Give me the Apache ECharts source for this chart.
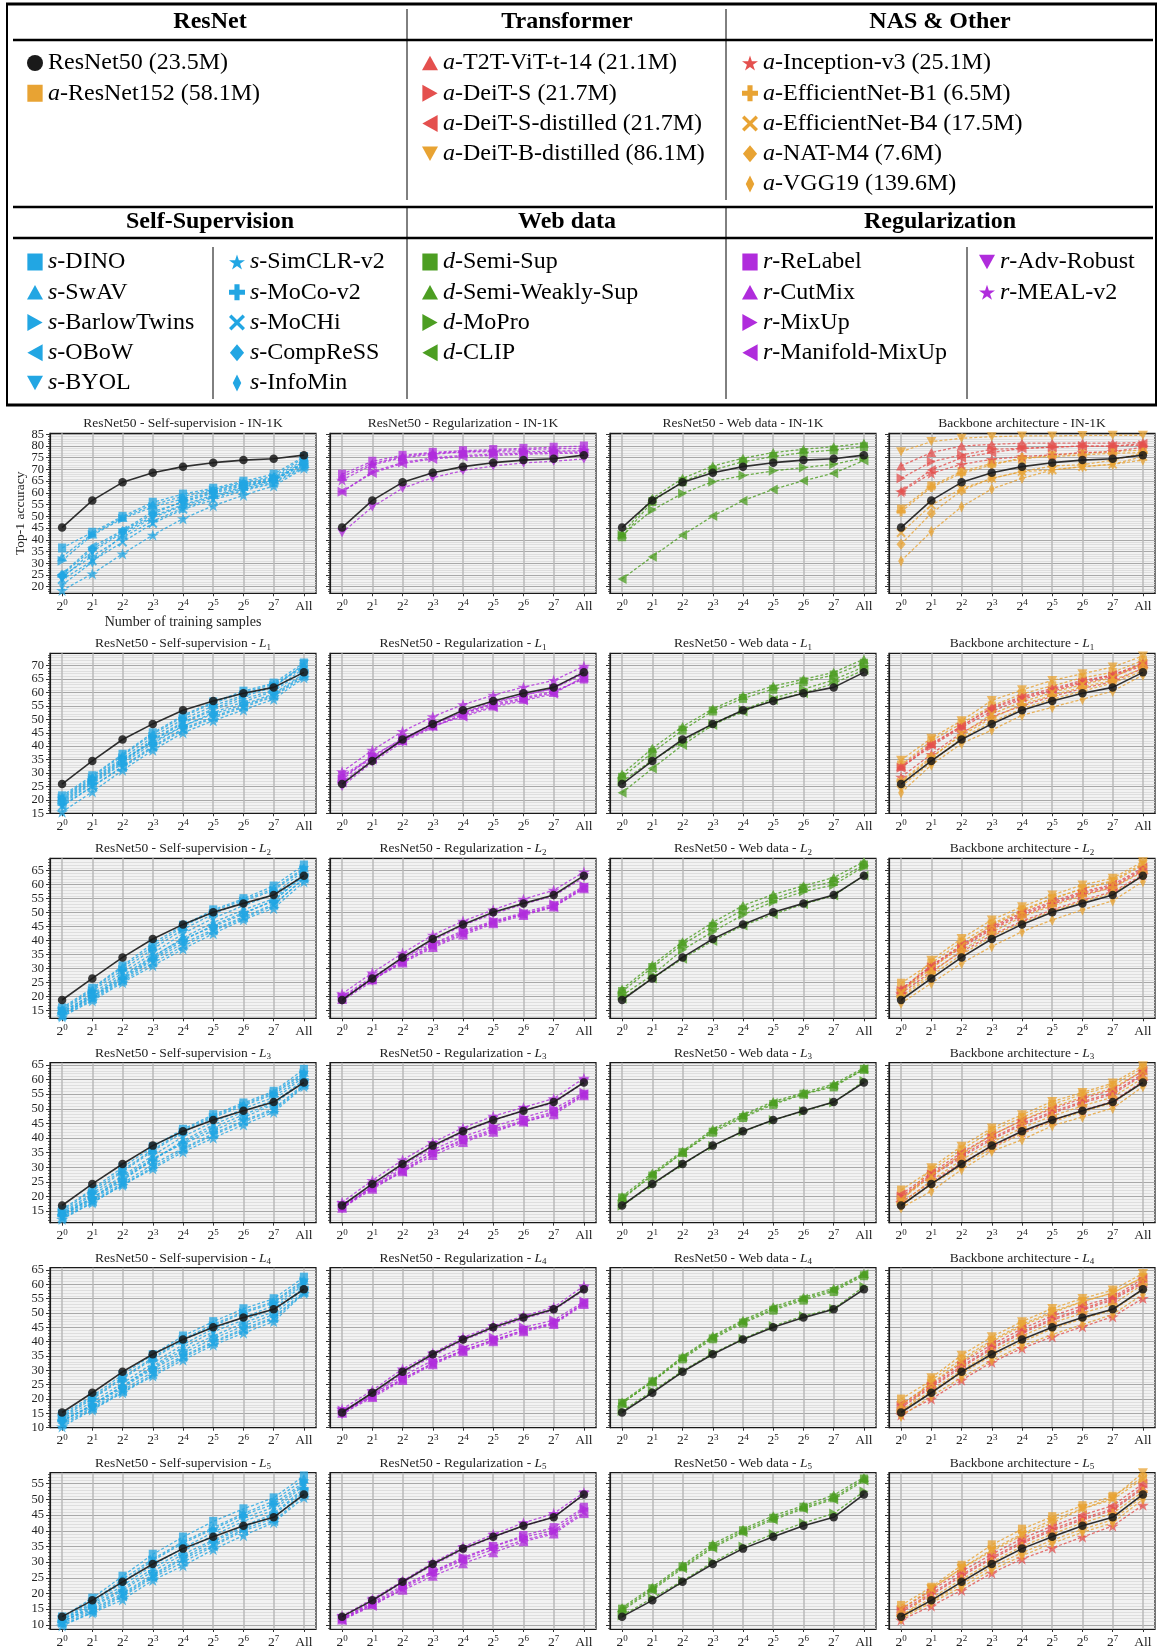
<!DOCTYPE html>
<html><head><meta charset="utf-8">
<script src="https://cdn.jsdelivr.net/npm/echarts@6/dist/echarts.min.js"></script>
<style>html,body{margin:0;padding:0;background:#fff}#c{width:1161px;height:1649px}</style>
</head><body><div id="c"></div>
<script>
// ---------------- categories / labels ----------------
const xTicks = ['2^0','2^1','2^2','2^3','2^4','2^5','2^6','2^7','All'];
const metricLabels = ['IN-1K','L1','L2','L3','L4','L5'];
const baseName = 'ResNet50 (23.5M)';
const selfNames = ['s-DINO','s-SwAV','s-BarlowTwins','s-OBoW','s-BYOL','s-SimCLR-v2','s-MoCo-v2','s-MoCHi','s-CompReSS','s-InfoMin'];
const regNames = ['r-ReLabel','r-CutMix','r-MixUp','r-Manifold-MixUp','r-Adv-Robust','r-MEAL-v2'];
const webNames = ['d-Semi-Sup','d-Semi-Weakly-Sup','d-MoPro','d-CLIP'];
const archNames = ['a-ResNet152 (58.1M)','a-T2T-ViT-t-14 (21.1M)','a-DeiT-S (21.7M)','a-DeiT-S-distilled (21.7M)','a-DeiT-B-distilled (86.1M)','a-Inception-v3 (25.1M)','a-EfficientNet-B1 (6.5M)','a-EfficientNet-B4 (17.5M)','a-NAT-M4 (7.6M)','a-VGG19 (139.6M)'];

// ---------------- values (Top-1 accuracy) ----------------
const resnet50_IN1K = [45.2, 56.8, 64.5, 68.6, 71.2, 72.9, 74.0, 74.6, 76.1];
const resnet50_L1 = [25.9, 34.5, 42.5, 48.3, 53.4, 56.8, 59.7, 61.9, 67.5];
const resnet50_L2 = [18.8, 26.5, 34.0, 40.6, 45.8, 50.1, 53.3, 56.3, 63.2];
const resnet50_L3 = [16.9, 24.3, 31.1, 37.4, 42.3, 46.2, 49.3, 52.3, 59.0];
const resnet50_L4 = [15.3, 22.2, 29.5, 35.6, 40.8, 45.0, 48.4, 51.3, 58.3];
const resnet50_L5 = [12.6, 17.8, 23.7, 29.4, 34.3, 38.1, 41.6, 44.3, 51.6];

const self_IN1K = [
 [36.5, 43.2, 50.0, 56.0, 59.5, 62.0, 65.0, 68.0, 75.5],
 [32.8, 42.5, 49.5, 55.0, 58.5, 61.5, 64.5, 67.0, 75.0],
 [31.1, 42.0, 49.0, 54.0, 57.5, 61.0, 64.0, 66.5, 74.0],
 [25.4, 37.0, 44.0, 52.0, 56.0, 60.0, 63.0, 65.5, 72.0],
 [23.5, 35.0, 43.0, 50.0, 55.0, 59.0, 62.5, 65.5, 73.5],
 [18.4, 25.5, 34.0, 42.0, 49.0, 54.5, 59.0, 63.0, 70.5],
 [24.5, 33.0, 41.0, 48.0, 53.5, 58.0, 61.5, 64.5, 71.5],
 [23.0, 31.0, 39.0, 47.0, 53.0, 57.0, 61.0, 64.0, 71.0],
 [25.0, 36.0, 43.5, 51.0, 56.5, 60.5, 63.5, 66.0, 72.5],
 [20.7, 30.5, 42.0, 49.5, 54.5, 58.5, 62.0, 65.0, 73.0]];
const reg_IN1K = [
 [68.0, 73.5, 76.0, 77.3, 78.0, 78.5, 79.0, 79.5, 80.0],
 [67.0, 72.5, 75.5, 77.0, 77.5, 78.0, 78.5, 78.8, 79.0],
 [60.5, 69.0, 73.0, 75.0, 76.0, 76.5, 77.0, 77.3, 77.5],
 [60.5, 68.5, 72.5, 74.5, 75.5, 76.0, 76.5, 76.8, 77.0],
 [43.0, 54.0, 62.0, 66.5, 69.5, 71.5, 72.8, 73.5, 74.5],
 [65.5, 72.0, 75.0, 76.5, 77.5, 77.5, 77.5, 77.8, 78.0]];
const web_IN1K = [
 [41.3, 56.3, 64.8, 69.8, 73.3, 75.5, 77.2, 78.3, 79.7],
 [42.5, 57.7, 66.2, 71.5, 74.8, 77.2, 78.6, 79.7, 81.2],
 [42.0, 52.7, 59.8, 64.8, 67.4, 69.4, 70.8, 72.2, 75.0],
 [23.3, 32.8, 42.0, 50.1, 56.7, 61.5, 65.2, 68.4, 73.8]];
const arch_IN1K = [
 [53.1, 63.0, 69.1, 72.6, 74.3, 76.2, 76.9, 77.6, 78.3],
 [71.5, 77.2, 80.0, 80.7, 81.2, 81.2, 81.2, 81.2, 81.5],
 [66.2, 73.3, 76.2, 78.6, 79.0, 79.5, 80.0, 80.0, 80.4],
 [60.8, 69.8, 75.0, 77.2, 79.0, 79.5, 80.0, 80.0, 81.0],
 [77.6, 81.9, 83.3, 84.0, 84.3, 84.3, 84.5, 84.6, 84.6],
 [60.5, 68.4, 72.2, 74.3, 75.5, 76.2, 77.2, 77.6, 79.5],
 [52.0, 62.4, 68.4, 71.9, 75.0, 75.5, 76.2, 76.9, 77.2],
 [43.0, 54.8, 61.7, 66.2, 69.1, 69.8, 71.2, 72.2, 75.5],
 [38.1, 51.3, 61.0, 66.2, 69.1, 71.5, 72.0, 74.0, 77.0],
 [31.0, 43.5, 54.1, 61.7, 66.2, 69.8, 71.2, 72.2, 74.0]];

const self_L1 = [
 [21.5, 29.0, 37.0, 45.0, 51.5, 56.5, 60.5, 63.5, 71.0],
 [21.0, 28.5, 36.5, 44.5, 51.0, 56.0, 60.0, 63.0, 70.0],
 [20.5, 28.0, 35.5, 43.5, 50.0, 55.0, 59.0, 62.5, 69.5],
 [18.0, 25.0, 32.5, 40.0, 46.5, 51.0, 55.0, 59.0, 66.5],
 [19.5, 27.0, 34.5, 42.5, 49.0, 54.0, 58.5, 62.0, 70.5],
 [15.5, 23.0, 31.0, 38.5, 45.0, 49.5, 53.5, 57.5, 65.5],
 [18.5, 26.0, 33.5, 41.0, 47.5, 52.5, 56.5, 60.5, 68.0],
 [17.5, 25.0, 32.0, 39.5, 46.0, 50.5, 54.5, 58.5, 66.0],
 [20.0, 27.5, 35.0, 41.5, 47.5, 52.0, 55.5, 59.5, 67.0],
 [19.0, 26.5, 34.0, 42.0, 48.5, 53.5, 57.5, 61.0, 69.0]];
const reg_L1 = [
 [29.0, 36.0, 43.0, 48.0, 52.5, 55.5, 58.0, 60.5, 65.0],
 [28.5, 35.5, 42.0, 47.5, 51.5, 55.0, 57.5, 60.0, 65.5],
 [27.5, 36.5, 42.5, 48.5, 52.5, 56.5, 59.0, 61.5, 67.0],
 [26.5, 35.0, 42.0, 47.5, 51.0, 54.5, 57.0, 59.5, 66.0],
 [25.0, 34.0, 41.5, 47.0, 52.0, 56.0, 59.0, 61.5, 68.0],
 [30.5, 38.5, 45.5, 51.0, 55.5, 59.0, 62.0, 64.5, 69.8]];
const web_L1 = [
 [28.4, 37.6, 46.0, 53.1, 57.8, 61.2, 64.0, 66.5, 70.9],
 [29.6, 39.2, 47.3, 53.9, 58.9, 62.4, 64.9, 67.5, 72.4],
 [26.8, 34.8, 41.7, 48.3, 53.5, 57.8, 61.2, 64.7, 69.6],
 [22.7, 31.7, 40.4, 47.9, 52.9, 57.2, 59.7, 63.4, 68.4]];
const arch_L1 = [
 [33.0, 42.0, 48.5, 55.0, 59.5, 62.5, 65.5, 67.5, 72.0],
 [32.5, 41.0, 47.5, 54.5, 58.5, 61.5, 64.5, 66.5, 71.0],
 [32.0, 40.0, 47.0, 53.0, 57.5, 60.5, 63.5, 66.0, 70.0],
 [32.0, 40.5, 47.5, 54.0, 58.0, 61.0, 64.0, 66.5, 70.5],
 [34.8, 43.0, 49.5, 57.0, 61.0, 64.5, 67.0, 69.5, 73.6],
 [28.5, 37.0, 45.0, 51.0, 55.0, 58.5, 61.5, 64.0, 69.0],
 [27.0, 36.0, 44.0, 50.5, 55.5, 59.0, 62.0, 64.5, 69.0],
 [26.5, 35.5, 44.5, 52.0, 56.5, 60.0, 63.0, 65.5, 71.0],
 [25.0, 34.0, 43.0, 49.0, 54.0, 57.5, 60.5, 63.5, 68.0],
 [22.7, 33.0, 41.0, 46.0, 51.5, 54.5, 57.5, 60.5, 66.5]];

const self_L2 = [
 [16.0, 23.0, 31.0, 39.0, 45.5, 51.0, 55.0, 59.5, 67.0],
 [15.5, 22.5, 30.5, 38.0, 45.0, 50.5, 54.5, 58.5, 66.0],
 [15.0, 22.0, 29.5, 37.0, 44.0, 49.5, 54.0, 58.0, 65.5],
 [13.5, 19.5, 26.0, 33.0, 39.0, 44.0, 48.5, 53.0, 62.0],
 [14.5, 21.0, 28.5, 35.5, 42.5, 48.0, 52.5, 56.5, 65.0],
 [12.8, 18.5, 25.0, 31.0, 37.0, 42.5, 47.5, 51.5, 61.0],
 [14.0, 20.0, 26.5, 33.5, 40.0, 45.5, 50.0, 54.0, 63.5],
 [13.0, 19.0, 25.5, 32.0, 38.0, 43.5, 48.0, 52.5, 62.5],
 [14.5, 20.5, 27.5, 34.5, 40.5, 45.0, 49.5, 54.5, 63.0],
 [13.5, 20.0, 27.0, 34.0, 41.0, 46.5, 51.0, 55.0, 64.0]];
const reg_L2 = [
 [19.5, 26.0, 32.5, 38.5, 43.0, 46.5, 49.5, 52.5, 59.0],
 [19.0, 26.0, 32.0, 37.5, 42.0, 46.0, 49.0, 52.0, 58.5],
 [20.0, 27.0, 33.5, 39.0, 43.5, 47.0, 50.0, 53.0, 59.5],
 [19.5, 26.5, 32.5, 38.0, 42.5, 46.5, 49.5, 52.0, 59.0],
 [18.5, 25.5, 33.5, 40.0, 45.5, 49.5, 53.0, 56.0, 62.5],
 [21.0, 28.5, 35.5, 42.0, 47.0, 51.0, 54.8, 58.0, 64.5]];
const web_L2 = [
 [21.8, 30.4, 38.7, 45.0, 51.0, 54.9, 58.7, 61.1, 67.0],
 [22.7, 31.3, 39.6, 46.5, 52.5, 56.5, 59.6, 62.5, 68.2],
 [20.4, 27.7, 36.7, 43.2, 49.2, 53.9, 57.5, 59.9, 66.4],
 [19.2, 26.5, 33.5, 39.9, 45.4, 49.4, 53.0, 56.1, 63.2]];
const arch_L2 = [
 [24.8, 32.0, 39.5, 46.0, 51.0, 55.0, 58.5, 61.0, 67.0],
 [22.7, 31.0, 38.0, 44.5, 49.5, 53.5, 57.0, 59.5, 65.5],
 [22.0, 30.5, 37.5, 44.0, 49.0, 53.0, 56.5, 59.0, 65.0],
 [22.5, 31.0, 38.5, 45.0, 50.0, 54.0, 57.5, 60.0, 66.0],
 [21.0, 33.0, 40.8, 47.4, 52.1, 56.3, 59.9, 62.3, 68.2],
 [21.0, 29.0, 36.0, 42.0, 47.0, 51.0, 54.5, 57.5, 63.5],
 [20.0, 28.5, 36.5, 43.0, 48.5, 52.5, 56.0, 59.0, 64.5],
 [21.5, 30.0, 38.0, 45.5, 50.5, 55.0, 58.5, 61.5, 67.5],
 [19.5, 27.5, 35.0, 41.5, 46.5, 50.5, 54.0, 57.0, 63.0],
 [17.6, 24.8, 31.9, 37.9, 43.2, 47.4, 51.0, 54.2, 61.1]];

const self_L3 = [
 [15.5, 22.5, 30.0, 37.0, 43.0, 48.0, 52.0, 56.0, 63.5],
 [15.0, 22.0, 29.0, 36.0, 42.5, 47.5, 51.5, 55.5, 62.5],
 [14.5, 21.0, 28.5, 35.5, 42.0, 47.0, 51.0, 55.0, 62.0],
 [13.0, 18.5, 24.5, 31.0, 36.5, 41.5, 46.0, 50.0, 58.5],
 [14.0, 20.5, 27.0, 34.0, 40.5, 45.5, 50.0, 54.0, 61.5],
 [12.2, 17.8, 23.8, 29.5, 35.2, 40.0, 44.5, 48.8, 57.6],
 [13.5, 19.5, 26.0, 32.5, 38.5, 43.5, 48.0, 52.0, 60.0],
 [12.5, 18.0, 24.0, 30.0, 36.0, 41.0, 45.5, 49.5, 58.0],
 [14.0, 19.5, 26.5, 33.0, 38.0, 42.5, 47.0, 51.5, 59.5],
 [13.5, 19.0, 25.5, 32.5, 39.0, 44.5, 49.0, 53.0, 61.0]];
const reg_L3 = [
 [16.5, 23.0, 29.0, 35.0, 39.5, 43.0, 46.0, 49.0, 55.0],
 [16.0, 22.5, 28.5, 34.0, 38.5, 42.0, 45.5, 48.0, 54.5],
 [17.0, 23.5, 29.5, 36.0, 40.5, 44.0, 47.0, 50.0, 55.5],
 [16.5, 23.0, 28.5, 35.0, 39.0, 42.5, 45.5, 48.5, 55.0],
 [15.8, 23.5, 30.5, 37.0, 42.0, 46.0, 49.5, 52.0, 59.0],
 [18.0, 25.5, 32.5, 38.5, 43.5, 47.5, 50.5, 53.5, 60.5]];
const web_L3 = [
 [19.5, 27.0, 35.0, 42.0, 47.0, 51.5, 55.0, 57.5, 63.5],
 [20.0, 28.0, 35.5, 43.0, 48.0, 52.5, 55.5, 58.5, 64.0],
 [16.8, 24.0, 31.0, 37.3, 42.2, 46.2, 49.2, 52.2, 59.5],
 [19.0, 27.5, 35.0, 42.5, 47.5, 52.0, 55.0, 58.0, 63.5]];
const arch_L3 = [
 [22.2, 29.0, 36.0, 42.5, 47.0, 51.5, 55.0, 58.0, 64.0],
 [19.5, 27.0, 33.5, 39.5, 44.5, 48.5, 52.0, 55.0, 61.5],
 [20.0, 27.5, 34.0, 40.0, 45.0, 49.0, 52.5, 55.5, 62.0],
 [20.7, 28.0, 35.0, 41.0, 46.0, 50.0, 53.5, 56.5, 63.0],
 [18.0, 29.8, 37.2, 43.4, 48.0, 52.5, 55.6, 58.8, 64.7],
 [18.0, 25.0, 31.5, 37.0, 42.0, 46.0, 49.5, 52.5, 59.5],
 [17.5, 25.5, 32.5, 38.5, 43.5, 47.5, 51.0, 54.0, 60.5],
 [19.0, 27.0, 34.5, 41.0, 46.0, 50.5, 54.0, 57.0, 63.0],
 [17.0, 24.0, 30.5, 36.5, 41.5, 45.5, 49.0, 52.0, 59.0],
 [16.1, 21.8, 29.2, 35.5, 39.4, 44.2, 47.2, 50.2, 57.6]];

const self_L4 = [
 [14.7, 21.0, 28.5, 35.5, 42.0, 47.0, 51.5, 55.0, 62.5],
 [14.0, 20.5, 27.5, 34.5, 41.0, 46.0, 50.5, 54.0, 61.5],
 [13.5, 20.0, 27.0, 34.0, 40.5, 45.5, 50.0, 53.5, 61.0],
 [11.5, 17.0, 23.0, 29.5, 35.0, 40.0, 44.5, 48.5, 57.5],
 [13.0, 19.0, 25.5, 32.5, 39.0, 44.5, 48.5, 52.5, 60.5],
 [10.3, 16.2, 22.2, 28.0, 33.6, 38.8, 43.0, 47.0, 56.9],
 [12.5, 18.0, 24.5, 31.0, 37.0, 42.0, 46.5, 50.5, 59.0],
 [11.0, 16.5, 22.5, 28.5, 34.5, 39.5, 44.0, 48.0, 57.0],
 [12.5, 17.5, 24.0, 30.5, 36.0, 41.0, 45.5, 49.5, 58.5],
 [12.0, 18.0, 24.5, 31.5, 38.0, 43.5, 47.5, 51.5, 60.0]];
const reg_L4 = [
 [15.5, 21.0, 27.0, 32.5, 37.0, 40.5, 44.0, 46.5, 53.5],
 [15.0, 20.5, 26.5, 32.0, 36.5, 40.0, 43.5, 46.0, 53.0],
 [16.0, 21.5, 28.0, 33.5, 38.0, 41.5, 45.0, 47.5, 54.0],
 [15.5, 21.0, 27.0, 32.5, 37.0, 40.5, 44.0, 46.5, 53.5],
 [14.5, 21.5, 29.0, 35.0, 40.5, 44.5, 48.0, 51.0, 58.0],
 [16.5, 23.0, 30.5, 36.0, 41.5, 45.5, 49.0, 52.0, 59.5]];
const web_L4 = [
 [18.5, 26.0, 34.0, 41.0, 46.5, 51.0, 54.5, 57.5, 63.0],
 [19.0, 26.5, 34.8, 42.0, 47.5, 52.2, 55.5, 58.6, 63.8],
 [15.8, 22.8, 29.8, 36.0, 41.0, 45.5, 49.0, 51.5, 59.2],
 [18.5, 26.0, 34.5, 41.5, 47.0, 51.5, 55.0, 58.0, 63.5]];
const arch_L4 = [
 [20.0, 26.5, 34.0, 40.5, 46.0, 50.5, 54.0, 57.0, 62.5],
 [17.0, 24.0, 31.0, 37.5, 43.0, 47.5, 51.0, 54.5, 60.5],
 [17.5, 24.5, 31.5, 38.0, 43.5, 48.0, 51.5, 55.0, 61.0],
 [18.1, 25.0, 32.5, 39.0, 44.5, 49.0, 52.5, 55.5, 62.0],
 [13.8, 27.4, 35.3, 41.7, 47.0, 51.6, 55.1, 58.0, 63.8],
 [14.5, 20.0, 26.6, 32.8, 37.7, 41.7, 45.2, 48.7, 55.1],
 [16.0, 23.0, 30.0, 36.5, 42.0, 46.5, 50.0, 53.0, 60.0],
 [18.0, 25.5, 33.0, 40.0, 45.5, 50.0, 54.0, 57.0, 62.5],
 [15.5, 22.5, 29.0, 35.0, 40.0, 44.5, 48.0, 51.0, 58.0],
 [14.0, 21.0, 27.5, 33.5, 38.5, 42.5, 46.0, 49.5, 56.5]];

const self_L5 = [
 [12.5, 18.5, 25.5, 32.5, 38.0, 43.0, 47.0, 50.5, 57.5],
 [12.0, 17.5, 24.5, 31.0, 36.5, 41.0, 45.5, 49.5, 56.5],
 [11.5, 17.0, 23.5, 30.5, 36.0, 40.5, 45.0, 48.5, 55.5],
 [10.0, 14.0, 19.0, 25.0, 30.0, 35.0, 40.0, 43.0, 51.5],
 [11.5, 16.5, 22.5, 29.0, 34.5, 39.5, 44.0, 47.5, 55.0],
 [9.7, 13.8, 18.0, 24.2, 28.8, 34.0, 38.5, 42.6, 50.6],
 [11.0, 15.5, 21.0, 27.0, 32.5, 37.0, 41.5, 45.5, 53.5],
 [10.5, 14.5, 19.5, 25.5, 31.0, 35.5, 40.5, 44.0, 52.5],
 [11.0, 15.0, 20.0, 26.0, 31.5, 36.5, 41.0, 45.0, 53.0],
 [11.0, 16.0, 21.5, 28.0, 33.5, 38.5, 43.0, 46.5, 54.5]];
const reg_L5 = [
 [12.0, 17.0, 22.5, 27.0, 31.0, 35.0, 38.5, 41.0, 47.5],
 [11.5, 16.5, 21.0, 25.5, 29.5, 33.0, 36.5, 39.0, 45.5],
 [12.0, 16.5, 22.0, 27.0, 31.5, 35.0, 38.0, 40.0, 47.0],
 [11.5, 16.0, 21.5, 26.5, 30.5, 34.0, 37.0, 39.5, 46.0],
 [12.0, 17.5, 23.5, 29.0, 34.0, 38.0, 41.5, 44.5, 51.5],
 [12.8, 18.2, 24.0, 29.8, 34.8, 38.8, 42.5, 45.5, 52.2]];
const web_L5 = [
 [15.0, 21.5, 28.5, 35.0, 40.0, 44.0, 47.5, 50.5, 56.5],
 [15.5, 22.0, 29.0, 35.8, 40.5, 44.8, 48.0, 51.4, 57.0],
 [13.0, 18.5, 24.0, 30.0, 35.0, 39.0, 42.5, 45.5, 52.5],
 [14.5, 21.0, 28.0, 34.5, 39.5, 43.5, 47.0, 50.0, 56.0]];
const arch_L5 = [
 [16.2, 22.0, 29.0, 35.5, 40.5, 44.5, 48.0, 51.0, 57.0],
 [14.0, 19.5, 25.5, 31.0, 36.0, 40.0, 43.5, 46.5, 53.5],
 [14.5, 20.0, 26.0, 31.5, 36.5, 40.5, 44.0, 47.0, 54.0],
 [15.0, 21.0, 27.0, 32.5, 37.5, 41.5, 45.0, 48.0, 55.0],
 [11.5, 21.5, 28.0, 33.5, 38.5, 42.5, 47.0, 50.5, 58.5],
 [11.5, 16.0, 21.0, 26.5, 31.0, 34.5, 38.0, 41.5, 48.2],
 [13.0, 18.5, 24.5, 30.0, 35.0, 39.0, 42.5, 45.5, 52.5],
 [15.0, 21.5, 28.0, 34.0, 39.0, 43.5, 47.0, 50.0, 56.5],
 [12.5, 17.5, 23.0, 28.5, 33.0, 37.0, 40.5, 43.5, 51.0],
 [12.0, 17.0, 22.0, 27.5, 32.0, 36.0, 39.5, 42.5, 50.0]];

// ---------------- styles ----------------
const FF = "'Liberation Serif','DejaVu Serif',serif";
const BLUE = '#22a6e3', PURPLE = '#b02cdc', GREEN = '#4c9e22', RED = '#e4504e', ORANGE = '#e8a333', BLACK = '#1a1a1a';
const MARK = {
  circle: ['circle', 8.5],
  rect: ['path://M0,0 H9 V10 H0 Z', 9],
  tri: ['path://M5,0 L10,9 L0,9 Z', 10],
  right: ['path://M0,0 L9,5 L0,10 Z', 10],
  left: ['path://M9,0 L0,5 L9,10 Z', 10],
  down: ['path://M0,0 L10,0 L5,9 Z', 10],
  star: ['path://M50,0 L61.2,34.5 L97.6,34.5 L68.2,55.9 L79.4,90.5 L50,69.1 L20.6,90.5 L31.8,55.9 L2.4,34.5 L38.8,34.5 Z', 12],
  plus: ['path://M34,0 H66 V34 H100 V66 H66 V100 H34 V66 H0 V34 H34 Z', 9.5],
  x: ['path://M0,15 L15,0 L50,35 L85,0 L100,15 L65,50 L100,85 L85,100 L50,65 L15,100 L0,85 L35,50 Z', 9.5],
  diamond: ['path://M5,0 L10,6 L5,12 L0,6 Z', 11],
  thin: ['path://M3,0 L6,6 L3,12 L0,6 Z', 11.5]
};
const selfStyle = ['rect','tri','right','left','down','star','plus','x','diamond','thin'].map(m => [m, BLUE]);
const regStyle = ['rect','tri','right','left','down','star'].map(m => [m, PURPLE]);
const webStyle = ['rect','tri','right','left'].map(m => [m, GREEN]);
const archStyle = [['rect',ORANGE],['tri',RED],['right',RED],['left',RED],['down',ORANGE],['star',RED],['plus',ORANGE],['x',ORANGE],['diamond',ORANGE],['thin',ORANGE]];

const rows = [
  [resnet50_IN1K, self_IN1K, reg_IN1K, web_IN1K, arch_IN1K],
  [resnet50_L1, self_L1, reg_L1, web_L1, arch_L1],
  [resnet50_L2, self_L2, reg_L2, web_L2, arch_L2],
  [resnet50_L3, self_L3, reg_L3, web_L3, arch_L3],
  [resnet50_L4, self_L4, reg_L4, web_L4, arch_L4],
  [resnet50_L5, self_L5, reg_L5, web_L5, arch_L5]
];
const groups = [
  {title: 'ResNet50 - Self-supervision - ', names: selfNames, style: selfStyle},
  {title: 'ResNet50 - Regularization - ', names: regNames, style: regStyle},
  {title: 'ResNet50 - Web data - ', names: webNames, style: webStyle},
  {title: 'Backbone architecture - ', names: archNames, style: archStyle}
];
const iconOf = {}, colorOf = {};
iconOf[baseName] = 'circle'; colorOf[baseName] = BLACK;
groups.forEach(g => g.names.forEach((n, k) => { iconOf[n] = MARK[g.style[k][0]][0]; colorOf[n] = g.style[k][1]; }));

// ---------------- layout ----------------
const colLeft = [50, 330, 610, 889];
const plotW = 266, plotH = 160;
const rowTop = [433.3, 653.3, 858.3, 1062.7, 1267.7, 1472.7];
const yRange = [[17.17, 85.43], [15.0, 74.6], [12.26, 69.4], [11.02, 65.78], [10.0, 65.81], [8.66, 58.52]];
const xIdx = xTicks.map((t, i) => i);

const grid = [], xAxis = [], yAxis = [], series = [], graphic = [];

function xFmt(v) {
  const t = xTicks[Math.round(v)];
  if (t && t.indexOf('^') > 0) { const p = t.split('^'); return '{b|' + p[0] + '}{s|' + p[1] + '}'; }
  return '{b|' + t + '}';
}
const yLab = (show, vals) => ({show: show, customValues: vals, margin: 6, fontFamily: FF, fontSize: 12.5, color: '#222',
  showMinLabel: true, showMaxLabel: true, hideOverlap: false});

rows.forEach((row, r) => {
  const [ymin, ymax] = yRange[r];
  const minor = [], major = [], labA = [], labB = [];
  for (let v = Math.ceil(ymin); v <= Math.floor(ymax); v++) {
    minor.push(v);
    if (v % 5 === 0) { major.push(v); (v % 10 === 0 ? labA : labB).push(v); }
  }
  groups.forEach((g, c) => {
    const gi = r * 4 + c;
    grid.push({left: colLeft[c], top: rowTop[r], width: plotW, height: plotH, show: true,
      backgroundColor: '#f2f2f2', borderColor: BLACK, borderWidth: 1.2, containLabel: false});
    xAxis.push({type: 'value', gridIndex: gi, min: -0.4, max: 8.4, position: 'bottom', z: 1,
      axisLine: {show: true, onZero: false, lineStyle: {color: BLACK, width: 1.2}},
      axisTick: {show: true, customValues: xIdx, length: 3, lineStyle: {color: '#333'}},
      axisLabel: {show: true, customValues: xIdx, margin: 5, formatter: xFmt, color: '#222',
        showMinLabel: true, showMaxLabel: true, hideOverlap: false,
        rich: {b: {fontFamily: FF, fontSize: 13.5, color: '#222', lineHeight: 16},
               s: {fontFamily: FF, fontSize: 9, color: '#222', verticalAlign: 'top', lineHeight: 9}}},
      splitLine: {show: true, lineStyle: {color: '#b9b9b9', width: 1.5}}});
    // minor grid axis (also carries labels 25, 35, ...)
    yAxis.push({type: 'value', gridIndex: gi, min: ymin, max: ymax, position: 'left', z: 0,
      axisLine: {show: false, onZero: false},
      axisTick: {show: true, customValues: minor, length: 2, lineStyle: {color: '#333', width: 0.8}},
      axisLabel: yLab(c === 0, labB),
      splitLine: {show: true, lineStyle: {color: '#d8d8d8', width: 0.8}}});
    // major grid axis (labels 20, 30, ...)
    yAxis.push({type: 'value', gridIndex: gi, min: ymin, max: ymax, position: 'left', z: 1,
      axisLine: {show: true, onZero: false, lineStyle: {color: BLACK, width: 1.2}},
      axisTick: {show: true, customValues: major, length: 4, lineStyle: {color: '#333', width: 1}},
      axisLabel: yLab(c === 0, labA),
      splitLine: {show: true, lineStyle: {color: '#a8a8a8', width: 1}}});
    const vals = row[c + 1];
    vals.forEach((arr, k) => {
      const [mk, color] = g.style[k];
      const m = MARK[mk];
      series.push({type: 'line', name: g.names[k], xAxisIndex: gi, yAxisIndex: 2 * gi + 1,
        data: arr.map((v, i) => [xIdx[i], v]),
        symbol: m[0], symbolSize: m[1], symbolKeepAspect: true, showSymbol: true,
        lineStyle: {color: color, width: 1.3, type: [3, 2], opacity: 0.8},
        itemStyle: {color: color, opacity: 0.75}, emphasis: {disabled: true}, silent: true, z: 2});
    });
    series.push({type: 'line', name: baseName, xAxisIndex: gi, yAxisIndex: 2 * gi + 1,
      data: row[0].map((v, i) => [xIdx[i], v]),
      symbol: 'circle', symbolSize: 8.5, showSymbol: true,
      lineStyle: {color: BLACK, width: 1.6, opacity: 0.9},
      itemStyle: {color: BLACK, opacity: 0.85}, emphasis: {disabled: true}, silent: true, z: 3});
    const lab = metricLabels[r];
    const txt = lab === 'IN-1K' ? '{t|' + g.title + 'IN-1K}' : '{t|' + g.title + '}{l|L}{s|' + lab.slice(1) + '}';
    graphic.push({type: 'text', x: colLeft[c] + plotW / 2, y: rowTop[r] - 9.5, silent: true,
      style: {text: txt, align: 'center', verticalAlign: 'middle', fill: '#222',
        rich: {t: {fontFamily: FF, fontSize: 13.5, fill: '#222', lineHeight: 16},
               l: {fontFamily: FF, fontSize: 13.5, fontStyle: 'italic', fill: '#222', lineHeight: 16},
               s: {fontFamily: FF, fontSize: 9, fill: '#222', verticalAlign: 'bottom', lineHeight: 9}}}});
  });
});

graphic.push({type: 'text', x: colLeft[0] + plotW / 2, y: 622, silent: true,
  style: {text: 'Number of training samples', align: 'center', verticalAlign: 'middle', fontFamily: FF, fontSize: 14, fill: '#222'}});
graphic.push({type: 'text', x: 20, y: rowTop[0] + plotH / 2, rotation: Math.PI / 2, silent: true,
  style: {text: 'Top-1 accuracy', align: 'center', verticalAlign: 'middle', fontFamily: FF, fontSize: 13.5, fill: '#222'}});

// ---------------- legend table ----------------
const L = (x1, y1, x2, y2, w) => ({type: 'line', silent: true, shape: {x1, y1, x2, y2}, style: {stroke: '#000', lineWidth: w}});
graphic.push(L(6, 4, 1157, 4, 3), L(6, 405, 1157, 405, 3), L(7, 3, 7, 406, 2), L(1156, 3, 1156, 406, 2),
  L(13, 40, 1153, 40, 2.5), L(13, 207, 1153, 207, 2.5), L(13, 238, 1153, 238, 2.5),
  L(407, 9, 407, 200, 1), L(726, 9, 726, 200, 1), L(407, 207, 407, 399, 1), L(726, 207, 726, 399, 1),
  L(213, 247, 213, 399, 1), L(967, 247, 967, 399, 1));
[['ResNet', 210, 22], ['Transformer', 567, 22], ['NAS & Other', 940, 22],
 ['Self-Supervision', 210, 222], ['Web data', 567, 222], ['Regularization', 940, 222]].forEach(h => {
  graphic.push({type: 'text', x: h[1], y: h[2], silent: true,
    style: {text: h[0], align: 'center', verticalAlign: 'middle', fontFamily: FF, fontSize: 24, fontWeight: 'bold', fill: '#000'}});
});

function legendBlock(names, left, top) {
  return {show: true, orient: 'vertical', left: left, top: top, padding: 0, itemGap: 4.25,
    itemWidth: 16, itemHeight: 17, selectedMode: false, symbolKeepAspect: true,
    data: names.map(n => ({name: n, icon: iconOf[n], itemStyle: {color: colorOf[n], opacity: 1}})),
    formatter: function (name) {
      const m = name.match(/^([asdr])(-.*)$/);
      return m ? '{i|' + m[1] + '}{n|' + m[2] + '}' : '{n|' + name + '}';
    },
    textStyle: {fontFamily: FF, fontSize: 24, lineHeight: 26, color: '#000',
      rich: {i: {fontFamily: FF, fontSize: 24, fontStyle: 'italic', color: '#000', lineHeight: 26},
             n: {fontFamily: FF, fontSize: 24, color: '#000', lineHeight: 26}}}};
}
const legend = [
  legendBlock([baseName, archNames[0]], 27, 50),
  legendBlock([archNames[1], archNames[2], archNames[3], archNames[4]], 422, 50),
  legendBlock([archNames[5], archNames[6], archNames[7], archNames[8], archNames[9]], 742, 50),
  legendBlock(selfNames.slice(0, 5), 27, 249),
  legendBlock(selfNames.slice(5), 229, 249),
  legendBlock(webNames, 422, 249),
  legendBlock(regNames.slice(0, 4), 742, 249),
  legendBlock(regNames.slice(4), 979, 249)
];

const chart = echarts.init(document.getElementById('c'), null, {renderer: 'canvas', width: 1161, height: 1649});
chart.setOption({
  animation: false, backgroundColor: '#ffffff',
  grid, xAxis, yAxis, series, legend, graphic, tooltip: {show: false}
});
</script></body></html>
